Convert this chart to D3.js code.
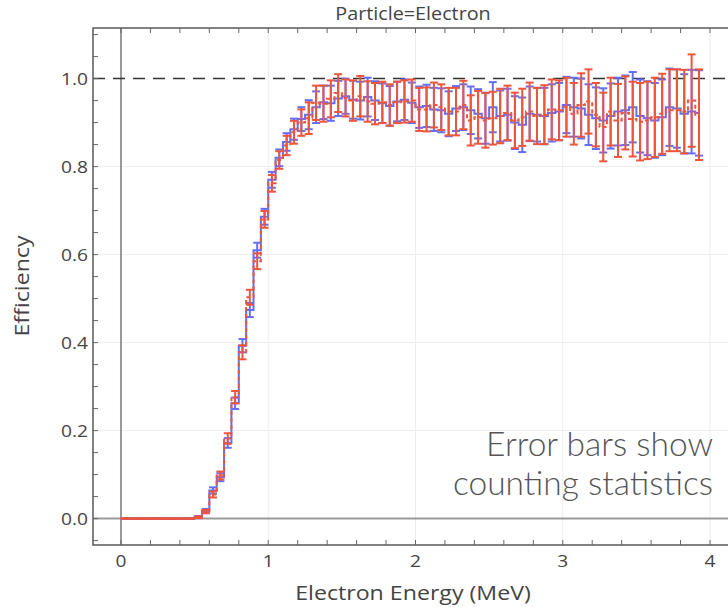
<!DOCTYPE html>
<html>
<head>
<meta charset="utf-8">
<script src="https://cdn.jsdelivr.net/npm/d3@7/dist/d3.min.js"></script>
<style>
  body { margin: 0; background: #fff; }
  svg { display: block; }
</style>
</head>
<body>
<svg id="chart"></svg>
<script>
// bin centres (MeV)
const energy = [
  0.025,0.075,0.125,0.175,0.225,0.275,0.325,0.375,0.425,0.475,
  0.525,0.575,0.625,0.675,0.725,0.775,0.825,0.875,0.925,0.975,
  1.025,1.075,1.125,1.175,1.225,1.275,1.325,1.375,1.425,1.475,
  1.525,1.575,1.625,1.675,1.725,1.775,1.825,1.875,1.925,1.975,
  2.025,2.075,2.125,2.175,2.225,2.275,2.325,2.375,2.425,2.475,
  2.525,2.575,2.625,2.675,2.725,2.775,2.825,2.875,2.925,2.975,
  3.025,3.075,3.125,3.175,3.225,3.275,3.325,3.375,3.425,3.475,
  3.525,3.575,3.625,3.675,3.725,3.775,3.825,3.875,3.925
];
const effBlue = [
  0,0,0,0,0,0,0,0,0,0,
  0.004,0.018,0.064,0.094,0.172,0.262,0.393,0.474,0.610,0.686,
  0.770,0.820,0.856,0.885,0.908,0.918,0.935,0.946,0.944,0.955,
  0.960,0.952,0.950,0.958,0.950,0.944,0.938,0.948,0.952,0.945,
  0.935,0.938,0.930,0.928,0.920,0.932,0.935,0.928,0.920,0.910,
  0.935,0.915,0.918,0.900,0.895,0.920,0.918,0.915,0.922,0.925,
  0.940,0.935,0.932,0.918,0.910,0.905,0.915,0.925,0.928,0.935,
  0.915,0.910,0.905,0.912,0.935,0.932,0.920,0.925,0.922
];
const errBlue = [
  0,0,0,0,0,0,0,0,0,0,
  0.002,0.004,0.007,0.009,0.011,0.013,0.015,0.016,0.017,0.018,
  0.018,0.019,0.020,0.024,0.027,0.033,0.036,0.038,0.040,0.040,
  0.040,0.043,0.043,0.044,0.044,0.045,0.045,0.045,0.046,0.046,
  0.047,0.048,0.049,0.050,0.051,0.051,0.052,0.054,0.056,0.058,
  0.057,0.058,0.059,0.060,0.062,0.062,0.061,0.064,0.065,0.065,
  0.064,0.067,0.068,0.069,0.070,0.073,0.074,0.077,0.079,0.080,
  0.083,0.084,0.085,0.086,0.088,0.089,0.090,0.095,0.097
];
const effRed = [
  0,0,0,0,0,0,0,0,0,0,
  0.003,0.016,0.055,0.098,0.182,0.276,0.378,0.503,0.585,0.680,
  0.762,0.815,0.848,0.878,0.900,0.910,0.945,0.943,0.954,0.967,
  0.956,0.950,0.960,0.948,0.943,0.946,0.940,0.946,0.948,0.950,
  0.930,0.930,0.940,0.935,0.925,0.925,0.940,0.905,0.912,0.905,
  0.910,0.915,0.922,0.905,0.912,0.925,0.915,0.918,0.930,0.928,
  0.935,0.920,0.940,0.948,0.918,0.890,0.925,0.905,0.922,0.908,
  0.902,0.905,0.912,0.920,0.928,0.928,0.925,0.950,0.918
];
const errRed = [
  0,0,0,0,0,0,0,0,0,0,
  0.002,0.004,0.007,0.009,0.012,0.014,0.016,0.017,0.018,0.019,
  0.019,0.020,0.022,0.026,0.030,0.036,0.039,0.041,0.042,0.043,
  0.042,0.046,0.046,0.046,0.047,0.047,0.047,0.047,0.048,0.048,
  0.049,0.050,0.051,0.052,0.054,0.054,0.055,0.057,0.060,0.062,
  0.060,0.062,0.062,0.063,0.065,0.066,0.064,0.067,0.068,0.068,
  0.067,0.070,0.072,0.073,0.072,0.078,0.077,0.083,0.083,0.085,
  0.088,0.088,0.090,0.091,0.093,0.093,0.095,0.105,0.103
];
const xTicks = [0, 1, 2, 3, 4];
const yTicks = [0, 0.2, 0.4, 0.6, 0.8, 1.0];

const width = 728, height = 607;
const frame = {left: 93, right: 738, top: 28, bottom: 545};
const blue = '#636efa', red = '#ef553b';
const stretch = 1.13;   // the source's lettering is a little wide

const svg = d3.select('#chart')
              .attr('width', width)
              .attr('height', height)
              .style('font-family', '"Open Sans", sans-serif');

const x = d3.scaleLinear().domain([-0.19, 4.19]).range([frame.left, frame.right]);
const y = d3.scaleLinear().domain([-0.06, 1.115]).range([frame.bottom, frame.top]);

const plot = svg.append('g');

// grid
plot.selectAll('.vgrid').data(xTicks.filter(d => d !== 0)).join('line')
    .attr('x1', d => x(d)).attr('x2', d => x(d))
    .attr('y1', frame.top).attr('y2', frame.bottom)
    .attr('stroke', '#ededed').attr('stroke-width', 1);
plot.selectAll('.hgrid').data(yTicks.filter(d => d !== 0 && d !== 1)).join('line')
    .attr('x1', frame.left).attr('x2', frame.right)
    .attr('y1', d => y(d)).attr('y2', d => y(d))
    .attr('stroke', '#ededed').attr('stroke-width', 1);

// zero lines
plot.append('line')
    .attr('x1', x(0)).attr('x2', x(0))
    .attr('y1', frame.top).attr('y2', frame.bottom)
    .attr('stroke', '#999').attr('stroke-width', 2);
plot.append('line')
    .attr('x1', frame.left).attr('x2', frame.right)
    .attr('y1', y(0)).attr('y2', y(0))
    .attr('stroke', '#999').attr('stroke-width', 2);

// reference line at 1
plot.append('line')
    .attr('x1', frame.left).attr('x2', frame.right)
    .attr('y1', y(1)).attr('y2', y(1))
    .attr('stroke', '#333').attr('stroke-width', 1.5)
    .style('stroke-dasharray', '12, 8');

function drawSeries(vals, errs, color, dash) {
  const pts = energy.map((e, i) => ({e: e, v: vals[i], err: errs[i]}));
  const g = plot.append('g');
  const bars = g.selectAll('g.bar').data(pts).join('g')
                .attr('stroke', color).attr('stroke-width', 2);
  bars.append('line')
      .attr('x1', d => x(d.e)).attr('x2', d => x(d.e))
      .attr('y1', d => y(d.v - d.err)).attr('y2', d => y(d.v + d.err));
  bars.append('line')
      .attr('x1', d => x(d.e) - 4).attr('x2', d => x(d.e) + 4)
      .attr('y1', d => y(d.v + d.err)).attr('y2', d => y(d.v + d.err));
  bars.append('line')
      .attr('x1', d => x(d.e) - 4).attr('x2', d => x(d.e) + 4)
      .attr('y1', d => y(d.v - d.err)).attr('y2', d => y(d.v - d.err));
  const line = d3.line().x(d => x(d.e)).y(d => y(d.v)).curve(d3.curveStep);
  g.append('path')
   .attr('d', line(pts))
   .attr('fill', 'none')
   .attr('stroke', color)
   .attr('stroke-width', 2)
   .style('stroke-dasharray', dash);
}
drawSeries(effBlue, errBlue, blue, null);
drawSeries(effRed, errRed, red, '4, 3');

// frame
svg.append('rect')
   .attr('x', frame.left).attr('y', frame.top)
   .attr('width', frame.right - frame.left).attr('height', frame.bottom - frame.top)
   .attr('fill', 'none').attr('stroke', '#5a5a5a').attr('stroke-width', 1.5);

// inside ticks
const xMinor = d3.range(0, 4.2001, 0.2);
const yMinor = d3.range(-0.05, 1.1001, 0.05);
svg.append('g').selectAll('line').data(xMinor).join('line')
   .attr('x1', d => x(d)).attr('x2', d => x(d))
   .attr('y1', frame.bottom).attr('y2', frame.bottom - 5)
   .attr('stroke', '#666');
svg.append('g').selectAll('line').data(xMinor).join('line')
   .attr('x1', d => x(d)).attr('x2', d => x(d))
   .attr('y1', frame.top).attr('y2', frame.top + 5)
   .attr('stroke', '#666');
svg.append('g').selectAll('line').data(yMinor).join('line')
   .attr('x1', frame.left).attr('x2', frame.left + 5)
   .attr('y1', d => y(d)).attr('y2', d => y(d))
   .attr('stroke', '#666');

// text helper: place, then widen a touch
function label(px, py, str, size, anchor, rot) {
  return svg.append('text')
            .attr('transform', `translate(${px},${py}) rotate(${rot || 0}) scale(${stretch},1)`)
            .attr('text-anchor', anchor)
            .attr('fill', '#444')
            .style('font-size', size + 'px')
            .text(str);
}

// tick labels
xTicks.forEach(d => label(x(d), frame.bottom + 22, d3.format('d')(d), 17, 'middle'));
yTicks.forEach(d => label(frame.left - 5, y(d) + 6, d3.format('.1f')(d), 17, 'end'));

// titles
label(413, 20, 'Particle=Electron', 17.5, 'middle');
label(413, 600, 'Electron Energy (MeV)', 20.5, 'middle');
label(29, 286, 'Efficiency', 20.5, 'middle', -90);

// annotation
const note = svg.append('text')
   .attr('text-anchor', 'end')
   .attr('fill', '#555')
   .style('font-family', 'Lato, sans-serif')
   .style('font-weight', 300)
   .style('font-size', '33.5px');
note.append('tspan').attr('x', 713).attr('y', 456).text('Error bars show');
note.append('tspan').attr('x', 713).attr('y', 495).text('counting statistics');
</script>
</body>
</html>
